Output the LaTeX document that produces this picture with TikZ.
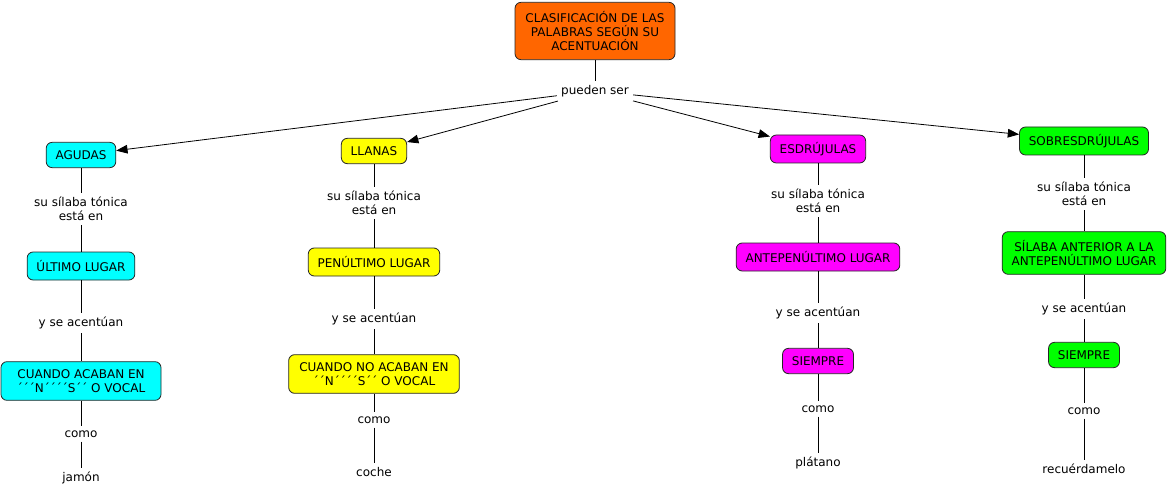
\documentclass[tikz,border=0pt]{standalone}
\usepackage{fontspec}
\setmainfont{DejaVu Sans}
\usetikzlibrary{arrows.meta}
\definecolor{cAg}{RGB}{0,255,255}
\definecolor{cLl}{RGB}{255,255,0}
\definecolor{cEs}{RGB}{255,0,255}
\definecolor{cSo}{RGB}{0,255,0}
\definecolor{cRo}{RGB}{255,102,0}
\tikzset{
  concept/.style={draw=black!85, line width=0.6pt, rounded corners=4.5pt, align=center,
    font=\fontsize{9}{10.8}\selectfont, inner xsep=7pt, inner ysep=3pt, minimum height=19pt},
  lbl/.style={align=center, font=\fontsize{9}{10.8}\selectfont, inner sep=3pt},
  conn/.style={line width=0.6pt, black},
  arr/.style={conn, -{Triangle[length=8.5pt,width=6.5pt]}}
}
\begin{document}
\begin{tikzpicture}[x=0.75pt,y=-0.75pt]
\useasboundingbox (0,0) rectangle (1169,495);
\fill[white] (0,0) rectangle (1169,495);

% root
\node[concept, fill=cRo, minimum width=120pt, minimum height=43pt] (root) at (595,31) {CLASIFICACIÓN DE LAS\\PALABRAS SEGÚN SU\\ACENTUACIÓN};
\node[lbl] (ps) at (595,91) {pueden ser};

% AGUDAS column
\node[concept, fill=cAg] (ag) at (81,155) {AGUDAS};
\node[lbl] (ag1) at (81,209) {su sílaba tónica\\está en};
\node[concept, fill=cAg, minimum height=21pt] (ag2) at (81,266) {ÚLTIMO LUGAR};
\node[lbl] (ag3) at (81,323) {y se acentúan};
\node[concept, fill=cAg, minimum width=120pt, minimum height=29pt] (ag4) at (81,381) {CUANDO ACABAN EN\\´´´N´´´´S´´ O VOCAL};
\node[lbl] (ag5) at (81,434) {como};
\node[lbl] (ag6) at (81,478) {jamón};

% LLANAS column
\node[concept, fill=cLl] (ll) at (374,151) {LLANAS};
\node[lbl] (ll1) at (374,203) {su sílaba tónica\\está en};
\node[concept, fill=cLl, minimum height=21pt] (ll2) at (374,262) {PENÚLTIMO LUGAR};
\node[lbl] (ll3) at (374,319) {y se acentúan};
\node[concept, fill=cLl, minimum width=128pt, minimum height=29pt] (ll4) at (374,374) {CUANDO NO ACABAN EN\\´´N´´´´S´´ O VOCAL};
\node[lbl] (ll5) at (374,420) {como};
\node[lbl] (ll6) at (374,472) {coche};

% ESDRUJULAS column
\node[concept, fill=cEs, minimum height=21pt] (es) at (818,149) {ESDRÚJULAS};
\node[lbl] (es1) at (818,201) {su sílaba tónica\\está en};
\node[concept, fill=cEs, minimum height=21pt] (es2) at (818,257) {ANTEPENÚLTIMO LUGAR};
\node[lbl] (es3) at (818,313) {y se acentúan};
\node[concept, fill=cEs] (es4) at (818,361) {SIEMPRE};
\node[lbl] (es5) at (818,409) {como};
\node[lbl] (es6) at (818,463) {plátano};

% SOBRESDRUJULAS column
\node[concept, fill=cSo, minimum height=21pt] (so) at (1084,141) {SOBRESDRÚJULAS};
\node[lbl] (so1) at (1084,194) {su sílaba tónica\\está en};
\node[concept, fill=cSo, minimum height=32pt] (so2) at (1084,253) {SÍLABA ANTERIOR A LA\\ANTEPENÚLTIMO LUGAR};
\node[lbl] (so3) at (1084,309) {y se acentúan};
\node[concept, fill=cSo] (so4) at (1084,355) {SIEMPRE};
\node[lbl] (so5) at (1084,411) {como};
\node[lbl] (so6) at (1084,469) {recuérdamelo};

% connectors
\draw[conn] (root) -- (ps);
\draw[arr] (ps) -- (ag);
\draw[arr] (ps) -- (ll);
\draw[arr] (ps) -- (es);
\draw[arr] (ps) -- (so);

\foreach \c in {ag,ll,es,so}{
  \draw[conn] (\c) -- (\c1);
  \draw[conn] (\c1) -- (\c2);
  \draw[conn] (\c2) -- (\c3);
  \draw[conn] (\c3) -- (\c4);
  \draw[conn] (\c4) -- (\c5);
  \draw[conn] (\c5) -- (\c6);
}
\end{tikzpicture}
\end{document}
